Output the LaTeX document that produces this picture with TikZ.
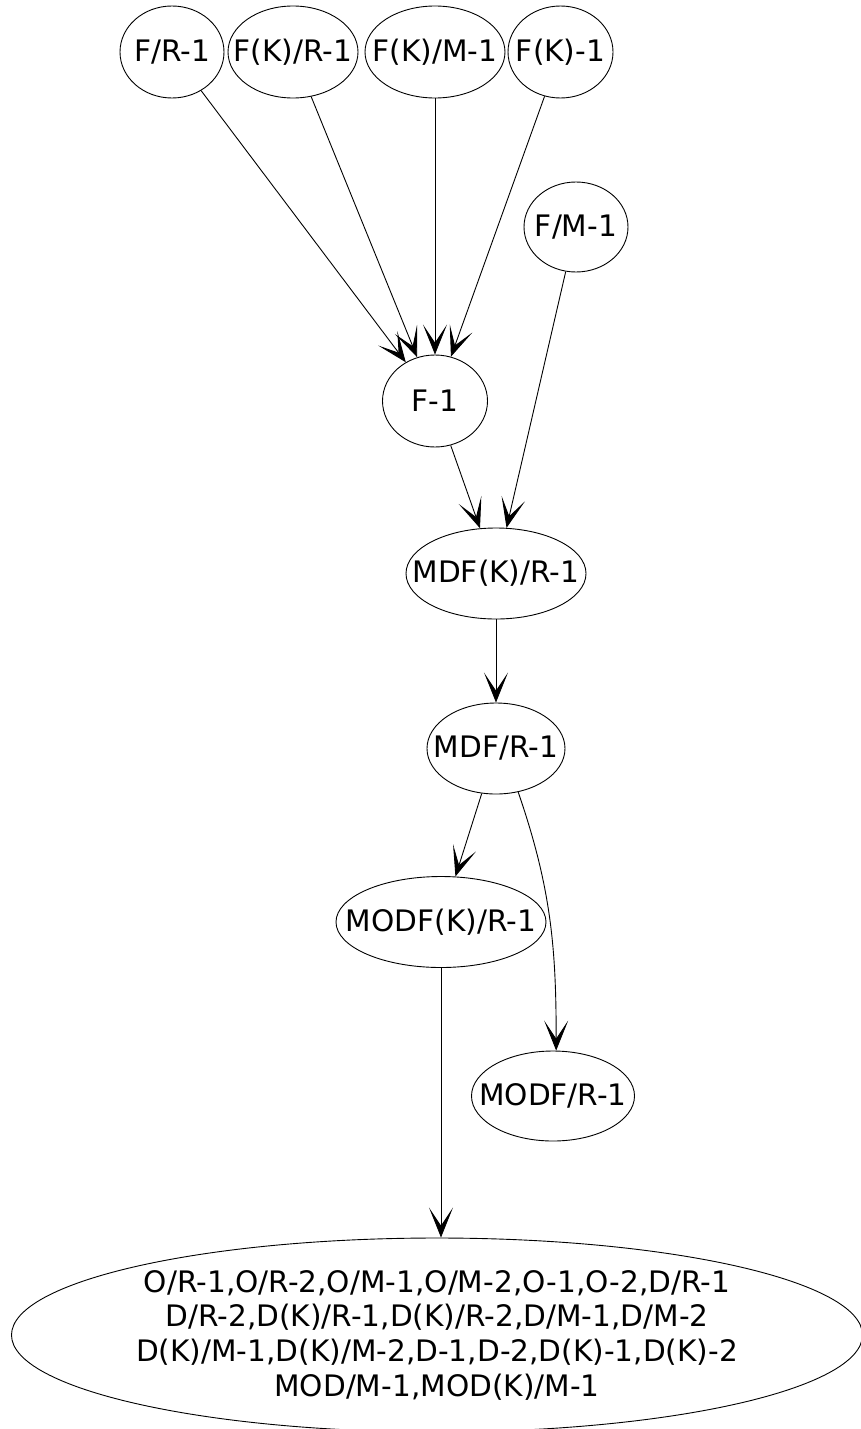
\documentclass[tikz,border=0pt]{standalone}
\usepackage{fontspec}
\setmainfont{DejaVu Sans}
\usetikzlibrary{shapes.geometric,arrows.meta}
\begin{document}
\begin{tikzpicture}[x=1pt,y=-1pt,
  ell/.style={draw, ellipse, inner sep=0pt, line width=0.9pt},
  lbl/.style={font=\fontsize{29.6}{34.7}\selectfont, inner sep=0pt},
  arr/.style={-{Stealth[length=30pt,width=24pt,inset=18pt]}, line width=0.9pt}]
\useasboundingbox (0,0) rectangle (861,1429);
\node[ell, minimum width=104pt, minimum height=92pt, label={[lbl]center:F/R-1}] (fr) at (172,52) {};
\node[ell, minimum width=130pt, minimum height=92pt, label={[lbl]center:F(K)/R-1}] (fkr) at (293,52) {};
\node[ell, minimum width=140pt, minimum height=92pt, label={[lbl]center:F(K)/M-1}] (fkm) at (435,52) {};
\node[ell, minimum width=105pt, minimum height=92pt, label={[lbl]center:F(K)-1}] (fk) at (560.5,52) {};
\node[ell, minimum width=104pt, minimum height=90pt, label={[lbl]center:F/M-1}] (fm) at (576,227) {};
\node[ell, minimum width=105pt, minimum height=92pt, label={[lbl]center:F-1}] (f1) at (435,401) {};
\node[ell, minimum width=180pt, minimum height=91pt, label={[lbl]center:MDF(K)/R-1}] (mdfk) at (496,573.5) {};
\node[ell, minimum width=138pt, minimum height=91pt, label={[lbl]center:MDF/R-1}] (mdf) at (496,748.5) {};
\node[ell, minimum width=210pt, minimum height=91pt, label={[lbl]center:MODF(K)/R-1}] (modfk) at (441,922) {};
\node[ell, minimum width=163pt, minimum height=90pt, label={[lbl]center:MODF/R-1}] (modf) at (553,1096) {};
\node[ell, minimum width=851pt, minimum height=194pt, label={[lbl,align=center]center:{O/R-1,O/R-2,O/M-1,O/M-2,O-1,O-2,D/R-1\\D/R-2,D(K)/R-1,D(K)/R-2,D/M-1,D/M-2\\D(K)/M-1,D(K)/M-2,D-1,D-2,D(K)-1,D(K)-2\\MOD/M-1,MOD(K)/M-1}}] (big) at (437,1335) {};

\draw[arr] (fr) -- (f1);
\draw[arr] (fkr) -- (f1);
\draw[arr] (fkm) -- (f1);
\draw[arr] (fk) -- (f1);
\draw[arr] (f1) -- (mdfk);
\draw[arr] (fm) -- (mdfk);
\draw[arr] (mdfk) -- (mdf);
\draw[arr] (mdf) -- (modfk);
\draw[arr] (mdf.-63) to[out=-71, in=90] (modf.86);
\draw[arr] (modfk) -- (modfk |- big.north);
\end{tikzpicture}
\end{document}
